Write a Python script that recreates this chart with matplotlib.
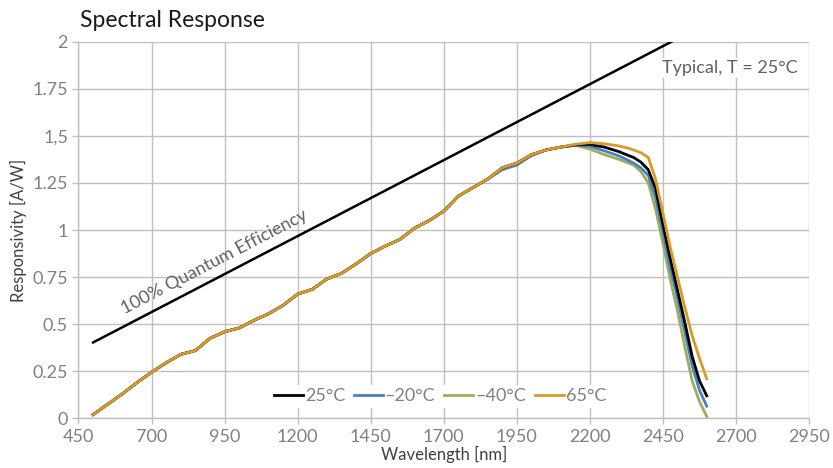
import matplotlib
matplotlib.use("Agg")
import matplotlib.pyplot as plt

# Wavelength grid (nm) shared by all temperature curves
wavelength = [500, 550, 600, 650, 700, 750, 800, 850, 900, 950,
              1000, 1050, 1100, 1150, 1200, 1250, 1300, 1350, 1400, 1450,
              1500, 1550, 1600, 1650, 1700, 1750, 1800, 1850, 1900, 1950,
              2000, 2050, 2100, 2150, 2200, 2250, 2300, 2325, 2350, 2375,
              2400, 2425, 2450, 2475, 2500, 2525, 2550, 2575, 2600]

_common = [0.02, 0.075, 0.13, 0.19, 0.245, 0.295, 0.34, 0.36, 0.425, 0.46,
           0.48, 0.52, 0.555, 0.60, 0.66, 0.685, 0.74, 0.77, 0.82, 0.875,
           0.915, 0.95, 1.01, 1.05, 1.10, 1.18, 1.225, 1.27, 1.33, 1.355,
           1.40, 1.425, 1.44]

resp_25 = _common + [1.452, 1.455, 1.44, 1.416, 1.40, 1.385, 1.36,
                     1.32, 1.22, 1.03, 0.85, 0.68, 0.51, 0.33, 0.20, 0.12]
resp_m20 = _common[:28] + [1.32, 1.345, 1.395, 1.425, 1.44] + \
           [1.45, 1.445, 1.42, 1.393, 1.375, 1.355, 1.33,
            1.29, 1.17, 0.99, 0.80, 0.64, 0.46, 0.28, 0.15, 0.065]
resp_m40 = _common + [1.45, 1.43, 1.40, 1.375, 1.36, 1.345, 1.31,
                      1.25, 1.11, 0.93, 0.74, 0.57, 0.38, 0.20, 0.09, 0.01]
resp_65 = _common + [1.455, 1.464, 1.458, 1.446, 1.437, 1.425, 1.41,
                     1.385, 1.27, 1.09, 0.91, 0.75, 0.59, 0.44, 0.32, 0.21]

series_labels = ["25°C", "–20°C", "–40°C", "65°C"]
series_colors = ["#000000", "#4a7fc0", "#9aae5c", "#d99a28"]

# 100% quantum efficiency reference line (end points)
qe_wavelength = [500, 2600]
qe_resp = [0.403, 2.097]

xticks = [450, 700, 950, 1200, 1450, 1700, 1950, 2200, 2450, 2700, 2950]
yticks = [0, 0.25, 0.5, 0.75, 1, 1.25, 1.5, 1.75, 2]
ytick_labels = ["0", "0.25", "0.5", "0.75", "1", "1.25", "1,5", "1.75", "2"]

plt.rcParams["font.family"] = ["Lato", "DejaVu Sans"]

fig = plt.figure(figsize=(8.33, 4.68), dpi=100)
ax = fig.add_axes([0.0942, 0.106, 0.877, 0.805])

grid_c = "#bfbfbf"
label_c = "#808080"
ax.set_xlim(450, 2950)
ax.set_ylim(0, 2)
ax.set_xticks(xticks)
ax.set_yticks(yticks)
ax.set_yticklabels(ytick_labels)
ax.grid(True, color=grid_c, linewidth=1.0, zorder=0)
ax.set_axisbelow(True)
for side in ["top", "right"]:
    ax.spines[side].set_visible(False)
for side in ["left", "bottom"]:
    ax.spines[side].set_color(grid_c)
    ax.spines[side].set_linewidth(1.0)
ax.tick_params(axis="both", colors=grid_c, length=4, width=1.0,
               labelcolor=label_c, labelsize=13)

ax.plot(qe_wavelength, qe_resp, color="black", linewidth=1.8, zorder=3,
        clip_on=True)

series = [resp_25, resp_m20, resp_m40, resp_65]
zorders = [5, 4, 3, 6]
handles = []
for vals, lab, col, z in zip(series, series_labels, series_colors, zorders):
    h, = ax.plot(wavelength, vals, color=col, linewidth=2.0, label=lab,
                 zorder=z, solid_joinstyle="round")
    handles.append(h)

leg = ax.legend(handles=handles, loc="center", bbox_to_anchor=(0.495, 0.059),
                ncol=4, frameon=True, fontsize=13, handlelength=1.6,
                handletextpad=0.1, columnspacing=0.5, borderpad=0.2,
                labelcolor=label_c)
leg.get_frame().set_facecolor("white")
leg.get_frame().set_edgecolor("none")
leg.get_frame().set_alpha(1)

ax.text(916, 0.83, "100% Quantum Efficiency", rotation=27.5,
        ha="center", va="center", fontsize=13, color="#606060",
        rotation_mode="anchor")

ax.text(0.985, 0.93, "Typical, T = 25°C", transform=ax.transAxes,
        ha="right", va="center", fontsize=13, color="#606060",
        bbox=dict(facecolor="white", edgecolor="none", pad=1.5))

ax.set_xlabel("Wavelength [nm]", fontsize=12, color="#404040", labelpad=1)
ax.set_ylabel("Responsivity [A/W]", fontsize=12, color="#404040", labelpad=4)

fig.text(0.096, 1 - 27 / 468, "Spectral Response", fontsize=16.5,
         color="#1a1a1a", va="baseline", ha="left")

fig.savefig("out.png", dpi=100)
